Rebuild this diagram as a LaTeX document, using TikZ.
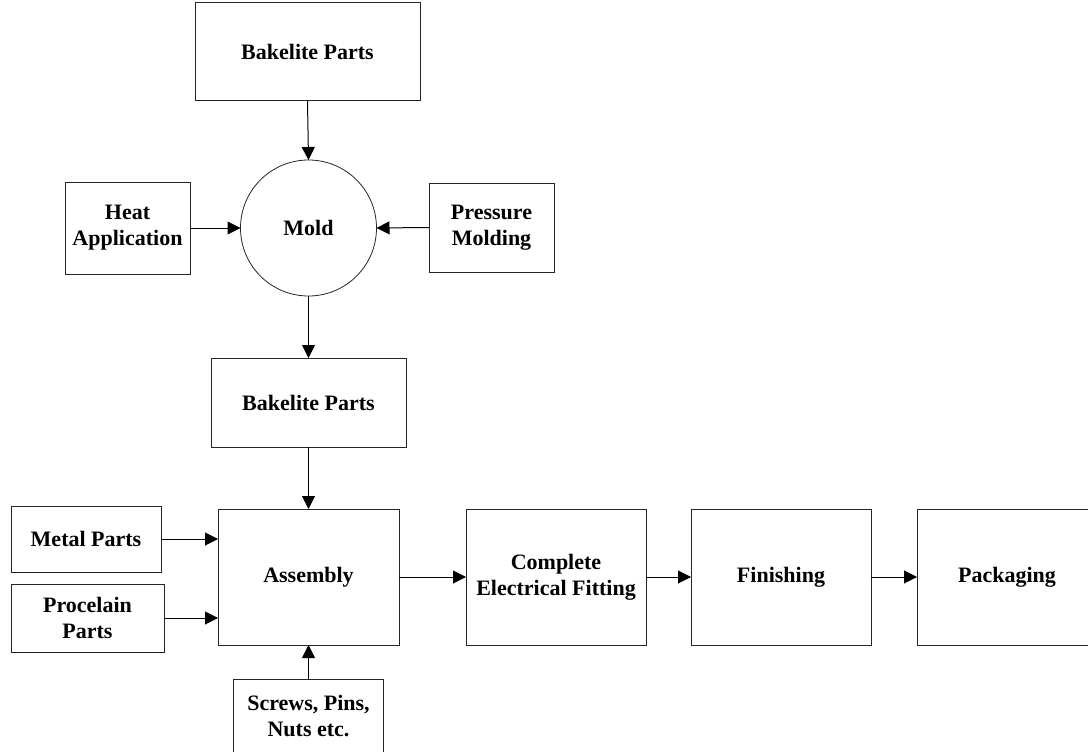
\documentclass[tikz,border=0pt]{standalone}
\usepackage{fontspec}
\setmainfont{Liberation Serif}
\usetikzlibrary{arrows.meta}
\begin{document}
\begin{tikzpicture}[x=1pt,y=-1pt,
  box/.style={draw=black!85, line width=1pt, rectangle, inner sep=0pt, outer sep=0pt,
    align=center, font=\bfseries\fontsize{22}{26}\selectfont},
  roundbox/.style={draw=black!85, line width=0.8pt, circle, inner sep=0pt, outer sep=0pt,
    minimum size=136pt, font=\bfseries\fontsize{22}{26}\selectfont},
  flow/.style={draw=black, line width=1pt, -{Triangle[length=13pt,width=13pt]}}]
\clip (0,0) rectangle (1088,752);
\fill[white] (0,0) rectangle (1088,752);
% nodes
\node[box, minimum width=225pt, minimum height=98pt] (bak1) at (307.5,52) {Bakelite Parts};
\node[roundbox] (mold) at (308.5,228) {Mold};
\node[box, minimum width=125pt, minimum height=92pt] (heat) at (127.5,228) {Heat\\Application};
\node[box, minimum width=125pt, minimum height=89pt] (press) at (491.5,227.5) {Pressure\\Molding};
\node[box, minimum width=195pt, minimum height=89pt] (bak2) at (308.5,402.5) {Bakelite Parts};
\node[box, minimum width=181pt, minimum height=136pt] (asm) at (308.5,577) {Assembly};
\node[box, minimum width=150pt, minimum height=66pt] (metal) at (86,539) {Metal Parts};
\node[box, minimum width=153pt, minimum height=68pt] (proc) at (87.5,618) {Procelain\\Parts};
\node[box, minimum width=150pt, minimum height=74pt] (screws) at (308.5,716) {Screws, Pins,\\Nuts etc.};
\node[box, minimum width=180pt, minimum height=136pt] (comp) at (556,577) {Complete\\Electrical Fitting};
\node[box, minimum width=180pt, minimum height=136pt] (fin) at (781,577) {Finishing};
\node[box, minimum width=180pt, minimum height=136pt] (pack) at (1007,577) {Packaging};
% connectors
\draw[flow] (bak1.south) -- (mold.north);
\draw[flow] (heat.east) -- (mold.west);
\draw[flow] (press.west) -- (mold.east);
\draw[flow] (mold.south) -- (bak2.north);
\draw[flow] (bak2.south) -- (asm.north);
\draw[flow] (metal.east) -- (metal.east -| asm.west);
\draw[flow] (proc.east) -- (proc.east -| asm.west);
\draw[flow] (screws.north) -- (asm.south);
\draw[flow] (asm.east) -- (comp.west);
\draw[flow] (comp.east) -- (fin.west);
\draw[flow] (fin.east) -- (pack.west);
\end{tikzpicture}
\end{document}
